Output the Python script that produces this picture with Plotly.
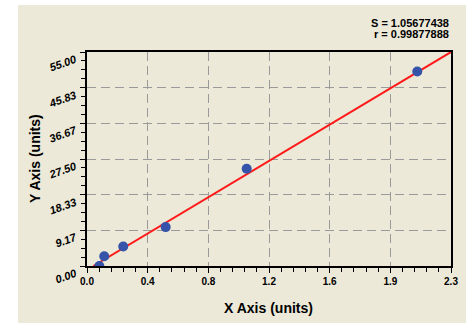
import plotly.graph_objects as go

# Data
x_vals = [0.078, 0.109, 0.229, 0.497, 1.009, 2.087]
y_vals = [0.0, 2.5, 5.0, 10.0, 25.0, 50.0]
fit_x = [0.04, 2.3]
fit_y = [0.0, 55.0]
x_tickvals = [0, 2.3/6, 2*2.3/6, 3*2.3/6, 4*2.3/6, 5*2.3/6, 2.3]
x_ticktext = ["0.0", "0.4", "0.8", "1.2", "1.6", "1.9", "2.3"]
y_tickvals = [0, 55/6, 2*55/6, 3*55/6, 4*55/6, 5*55/6, 55]
y_ticktext = ["0.00", "9.17", "18.33", "27.50", "36.67", "45.83", "55.00"]
stats = ["S = 1.05677438", "r = 0.99877888"]

W, H = 474, 335
L, R, T, B = 87, 451, 52, 266
pw, ph = R - L, B - T

def px(xp):
    return (xp - L) / pw

def py(yp):
    return (B - yp) / ph

FONT = "Liberation Sans, Arial, sans-serif"

fig = go.Figure()
fig.add_trace(go.Scatter(x=fit_x, y=fit_y, mode="lines",
                         line=dict(color="#ff1a1a", width=2), hoverinfo="skip"))
fig.add_trace(go.Scatter(x=x_vals, y=y_vals, mode="markers",
                         marker=dict(color="#3553a8", size=10)))

axis_common = dict(
    showline=True, linecolor="black", linewidth=1.5, mirror=True,
    ticks="outside", ticklen=5, tickcolor="black", tickwidth=1,
    showgrid=True, gridcolor="#9a9a9a", griddash="9px,5px", gridwidth=1,
    zeroline=False,
)

fig.update_xaxes(range=[0, 2.3], tickmode="array", tickvals=x_tickvals, ticktext=x_ticktext,
                 tickfont=dict(family=FONT, size=10, color="black", weight="bold"),
                 minor=dict(ticks="outside", ticklen=4, tickcolor="black", dtick=2.3/30, tick0=0, showgrid=False),
                 **axis_common)
fig.update_yaxes(range=[0, 55], tickmode="array", tickvals=y_tickvals, ticktext=y_ticktext,
                 showticklabels=False,
                 minor=dict(ticks="outside", ticklen=4, tickcolor="black", dtick=55/24, tick0=0, showgrid=False),
                 **axis_common)

# y tick labels, rotated, as annotations
for v, t in zip(y_tickvals, y_ticktext):
    fig.add_annotation(text=t, x=px(81), y=v, xref="paper", yref="y",
                       xanchor="right", yanchor="top", yshift=2, showarrow=False, textangle=-20,
                       font=dict(family=FONT, size=11, color="black", weight="bold", style="italic"))

fig.add_shape(type="rect", xref="paper", yref="paper",
              x0=px(18), x1=px(466), y0=py(323), y1=py(5),
              fillcolor="#ece9d8", line=dict(width=0), layer="below")

for text, yp in zip(stats, [23, 34]):
    fig.add_annotation(text=text, x=1.0, y=py(yp), xref="paper", yref="paper",
                       xanchor="right", yanchor="middle", showarrow=False,
                       font=dict(family=FONT, size=11, color="black", weight="bold"))

fig.add_annotation(text="X Axis (units)", x=px(268), y=py(308), xref="paper", yref="paper",
                   xanchor="center", yanchor="middle", showarrow=False,
                   font=dict(family=FONT, size=14, color="black", weight="bold"))
fig.add_annotation(text="Y Axis (units)", x=px(35), y=py(159), xref="paper", yref="paper",
                   xanchor="center", yanchor="middle", showarrow=False, textangle=-90,
                   font=dict(family=FONT, size=14, color="black", weight="bold"))

fig.update_layout(
    width=W, height=H,
    margin=dict(l=L, r=W - R, t=T, b=H - B, pad=0),
    paper_bgcolor="white", plot_bgcolor="white",
    showlegend=False,
)

fig.write_html("out.html")
